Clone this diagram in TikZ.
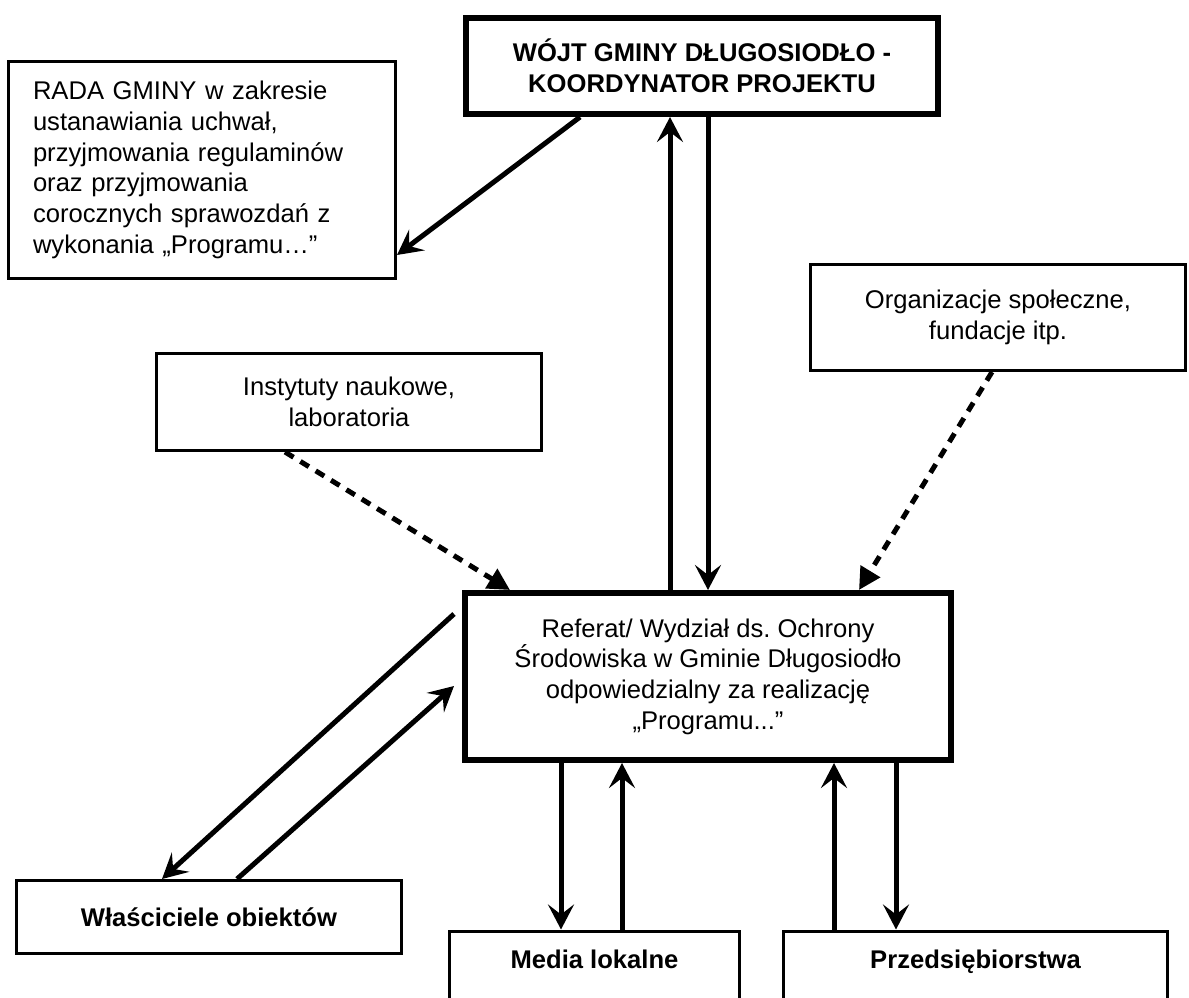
\documentclass[tikz,border=0pt]{standalone}
\usepackage{fontspec}
\setmainfont{Liberation Sans}
\usetikzlibrary{calc,arrows.meta}
\frenchspacing

\begin{document}
\begin{tikzpicture}[x=1pt,y=-1pt,
  every node/.style={draw,align=center,inner sep=0pt,font=\fontsize{25.6}{30.7}\selectfont},
  boldtext/.style={font=\fontsize{25.6}{30.7}\selectfont\bfseries},
  thickbox/.style={line width=6pt},
  thinbox/.style={line width=3pt},
  openbox/.style={thinbox,boldtext,anchor=north,minimum width=#1,text height=37.5pt,text depth=100pt},
  solidarrow/.style={line width=5pt,-{Stealth[length=25pt,width=26pt,inset=10pt]}},
  dashedarrow/.style={line width=5pt,dash pattern=on 10pt off 8pt,-{Triangle[length=22pt,width=22pt]}}]
\useasboundingbox (0,0) rectangle (1189,998);
\clip (0,0) rectangle (1189,998);
\node [thickbox,boldtext,minimum width=472,minimum height=96] (Wojt) at (702,66) {WÓJT GMINY DŁUGOSIODŁO -\\KOORDYNATOR PROJEKTU};
\node [thinbox,align=left,inner xsep=24.5pt,text width=338pt,minimum height=217] (RadaGminy) at (202,170) {RADA GMINY w zakresie\\ustanawiania uchwał,\\przyjmowania regulaminów\\oraz przyjmowania\\corocznych sprawozdań z\\wykonania „Programu…”};
\node [thinbox,minimum width=385,minimum height=97] (Instytuty) at (349,402) {Instytuty naukowe,\\laboratoria};
\node [thinbox,minimum width=375,minimum height=106] (Organizacje) at (998,317.5) {Organizacje społeczne,\\fundacje itp.};
\node [thickbox,minimum width=486,minimum height=167] (Referat) at (708,676.5) {Referat/ Wydział ds. Ochrony\\Środowiska w Gminie Długosiodło\\odpowiedzialny za realizację\\„Programu...”};
\node [thinbox,boldtext,minimum width=385,minimum height=73] (Wlasciciele) at (209,917) {Właściciele obiektów};
\node [openbox=290] (Media) at (594.5,929.5) {Media lokalne};
\node [openbox=384] (Przedsiebiorstwa) at (975.5,929.5) {Przedsiębiorstwa};
\draw [solidarrow] ($(Wojt.south west)+(117,0)$) -- ($(RadaGminy.south east)+(0,-25)$);
\coordinate (WojtUp) at ($(Referat.north)+(-38,0)$);
\draw [solidarrow] (WojtUp) -- (WojtUp |- Wojt.south);
\draw [solidarrow] (Referat.north |- Wojt.south) -- (Referat.north);
\draw [dashedarrow] ($(Instytuty.south)+(-64,0)$) -- ($(Referat.north west)+(48,0)$);
\draw [dashedarrow] ($(Organizacje.south)+(-6,0)$) -- ($(Referat.north east)+(-95,0)$);
\draw [solidarrow] ($(Referat.north west)+(-8,24)$) -- ($(Wlasciciele.north west)+(147,0)$);
\draw [solidarrow] ($(Wlasciciele.north west)+(222,0)$) -- ($(Referat.north west)+(-8,96)$);
\coordinate (MediaDown) at ($(Referat.south west)+(99,0)$);
\coordinate (MediaUp) at ($(Referat.south west)+(160,0)$);
\coordinate (PrzedUp) at ($(Referat.south west)+(372,0)$);
\coordinate (PrzedDown) at ($(Referat.south west)+(434,0)$);
\draw [solidarrow] (MediaDown) -- (MediaDown |- Media.north);
\draw [solidarrow] (MediaUp |- Media.north) -- (MediaUp);
\draw [solidarrow] (PrzedUp |- Przedsiebiorstwa.north) -- (PrzedUp);
\draw [solidarrow] (PrzedDown) -- (PrzedDown |- Przedsiebiorstwa.north);
\end{tikzpicture}
\end{document}
